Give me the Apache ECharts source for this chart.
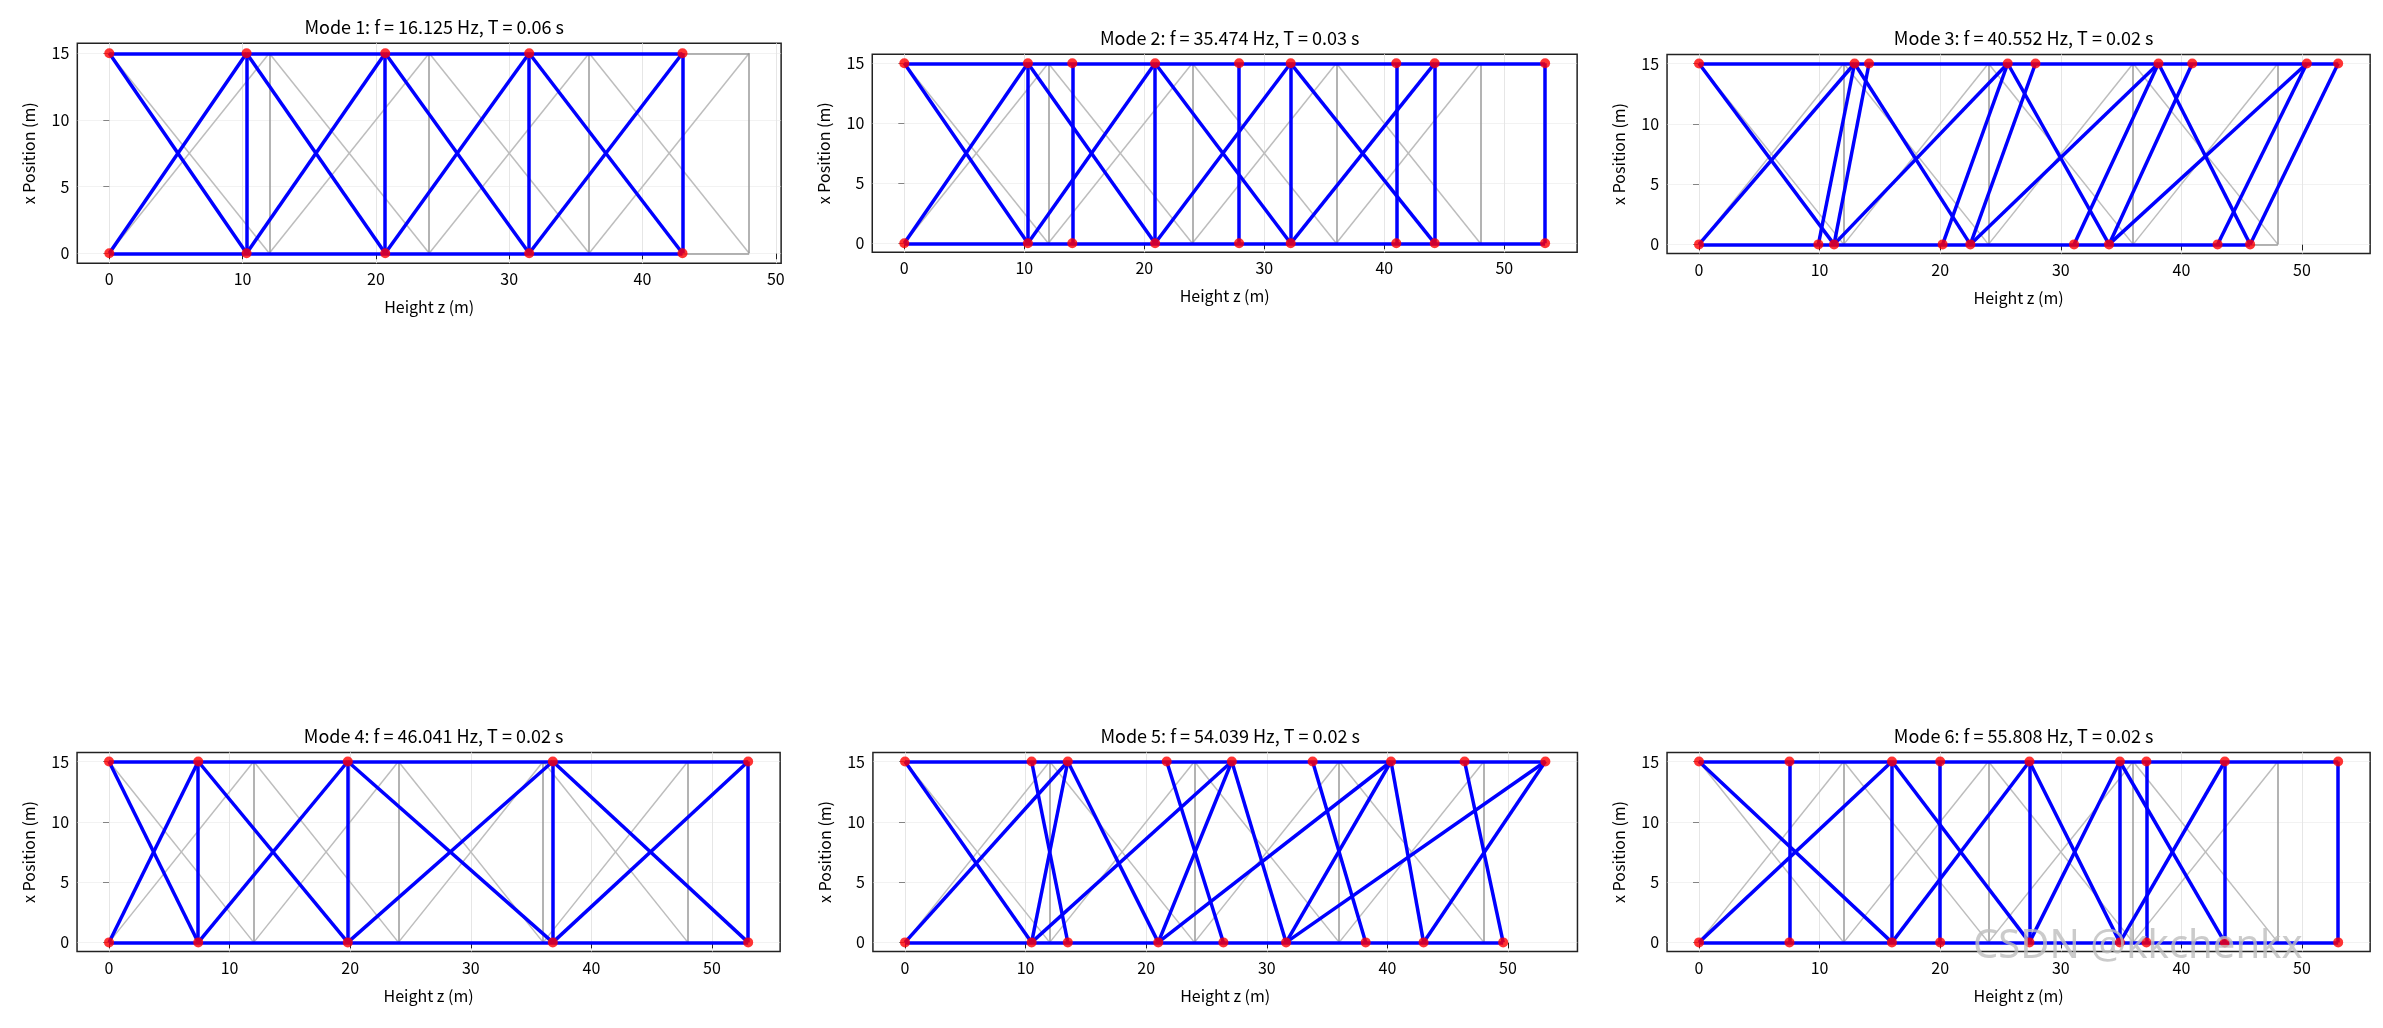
<!DOCTYPE html>
<html><head><meta charset="utf-8">
<script src="https://cdn.jsdelivr.net/npm/echarts@6/dist/echarts.min.js"></script>
<style>html,body{margin:0;padding:0;background:#fff}#c{width:2383px;height:1028px}</style>
</head><body><div id="c"></div>
<script>
const titles = [
 "Mode 1: f = 16.125 Hz, T = 0.06 s","Mode 2: f = 35.474 Hz, T = 0.03 s","Mode 3: f = 40.552 Hz, T = 0.02 s",
 "Mode 4: f = 46.041 Hz, T = 0.02 s","Mode 5: f = 54.039 Hz, T = 0.02 s","Mode 6: f = 55.808 Hz, T = 0.02 s"];
const xTicks = [0,10,20,30,40,50];
const yTicks = [0,5,10,15];
const origLevels = [0,12,24,36,48];
// deformed nodes (z) on top chord (x=15) and bottom chord (x=0)
const top1 = [0,10.3,20.7,31.5,43];
const bot1 = [0,10.3,20.7,31.5,43];
const mem1 = [[10.3,10.3],[20.7,20.7],[31.5,31.5],[43,43],[10.3,0],[0,10.3],[20.7,10.3],[10.3,20.7],[31.5,20.7],[20.7,31.5],[43,31.5],[31.5,43]];
const top2 = [0,10.3,14,20.9,27.9,32.2,41,44.2,53.4];
const bot2 = [0,10.3,14,20.9,27.9,32.2,41,44.2,53.4];
const mem2 = [[10.3,10.3],[14,14],[20.9,20.9],[27.9,27.9],[32.2,32.2],[41,41],[44.2,44.2],[53.4,53.4],[10.3,0],[0,10.3],[20.9,10.3],[10.3,20.9],[32.2,20.9],[20.9,32.2],[44.2,32.2],[32.2,44.2]];
const top3 = [0,12.9,14.1,25.6,27.9,38.1,40.9,50.4,53.0];
const bot3 = [0,9.9,11.2,20.2,22.5,31.1,34.0,43.0,45.7];
const mem3 = [[11.2,0],[0,12.9],[9.9,12.9],[11.2,14.1],[22.5,12.9],[11.2,25.6],[20.2,25.6],[22.5,27.9],[34.0,25.6],[22.5,38.1],[31.1,38.1],[34.0,40.9],[45.7,38.1],[34.0,50.4],[43.0,50.4],[45.7,53.0]];
const top4 = [0,7.4,19.8,36.8,53];
const bot4 = [0,7.4,19.8,36.8,53];
const mem4 = [[7.4,7.4],[19.8,19.8],[36.8,36.8],[53,53],[7.4,0],[0,7.4],[19.8,7.4],[7.4,19.8],[36.8,19.8],[19.8,36.8],[53,36.8],[36.8,53]];
const top5 = [0,10.5,13.5,21.7,27.1,33.8,40.3,46.4,53.1];
const bot5 = [0,10.5,13.5,21.0,26.4,31.6,38.2,43.0,49.6];
const mem5 = [[10.5,0],[0,13.5],[13.5,10.5],[10.5,13.5],[21.0,13.5],[10.5,27.1],[26.4,21.7],[21.0,27.1],[31.6,27.1],[21.0,40.3],[38.2,33.8],[31.6,40.3],[43.0,40.3],[31.6,53.1],[49.6,46.4],[43.0,53.1]];
const top6 = [0,7.5,16.0,20.0,27.4,34.9,37.1,43.6,53.0];
const bot6 = [0,7.5,16.0,20.0,27.4,34.9,37.1,43.6,53.0];
const mem6 = [[7.5,7.5],[16,16],[20,20],[27.4,27.4],[34.9,34.9],[37.1,37.1],[43.6,43.6],[53,53],[16,0],[0,16],[27.4,16],[16,27.4],[34.9,27.4],[27.4,34.9],[43.6,34.9],[34.9,43.6]];

const modes = [[top1,bot1,mem1],[top2,bot2,mem2],[top3,bot3,mem3],[top4,bot4,mem4],[top5,bot5,mem5],[top6,bot6,mem6]];
const xRanges = [[-2.4,50.4],[-2.67,56.07],[-2.65,55.65],[-2.65,55.65],[-2.66,55.76],[-2.65,55.65]];
const zeroX = [109.3,904.3,1699,109,905,1699];
const y15 = [53.3,63.3,63.5,761.5,761.5,761.5];
const ppu = [13.33,12.0,12.06,12.06,12.06,12.06];

const chart = echarts.init(document.getElementById('c'));
const grids=[],xAxes=[],yAxes=[],series=[],titleOpts=[];
const font='"Noto Sans CJK SC", sans-serif';
modes.forEach((m,i)=>{
  const [xmin,xmax]=xRanges[i], s=ppu[i];
  const left=zeroX[i]+xmin*s, width=(xmax-xmin)*s;
  const top=y15[i]-0.75*s, height=16.5*s;
  grids.push({left:left,top:top,width:width,height:height,containLabel:false,show:true,borderColor:'#222',borderWidth:1.5});
  titleOpts.push({text:titles[i],left:left+width/2,top:top-30,textAlign:'center',textStyle:{fontFamily:font,fontSize:18,fontWeight:'normal',color:'#000'}});
  const axLine={show:false};
  xAxes.push({gridIndex:i,type:'value',min:xmin,max:xmax,interval:10,
    axisLabel:{fontFamily:font,fontSize:16,color:'#000',customValues:xTicks},axisTick:{customValues:xTicks,length:6,lineStyle:{color:'#222'}},
    axisLine:{show:false},splitLine:{show:true,lineStyle:{color:'#e6e6e6'}},
    name:'Height z (m)',nameLocation:'middle',nameGap:36,nameTextStyle:{fontFamily:font,fontSize:16,color:'#000'}});
  yAxes.push({gridIndex:i,type:'value',min:-0.75,max:15.75,
    axisLabel:{fontFamily:font,fontSize:16,color:'#000',customValues:yTicks},axisTick:{show:true,customValues:yTicks,length:6,lineStyle:{color:'#222'}},
    axisLine:{show:false},splitLine:{show:false},
    name:'x Position (m)',nameLocation:'middle',nameGap:40,nameTextStyle:{fontFamily:font,fontSize:16,color:'#000'}});
  // horizontal grid lines
  series.push({type:'lines',coordinateSystem:'cartesian2d',xAxisIndex:i,yAxisIndex:i,silent:true,
    lineStyle:{color:'#e6e6e6',width:1.2},data:yTicks.map(v=>({coords:[[xmin,v],[xmax,v]]}))});
  // original
  const L=origLevels, last=L[L.length-1];
  const diag=[];
  for(let k=0;k<L.length-1;k++){diag.push({coords:[[L[k],0],[L[k+1],15]]});diag.push({coords:[[L[k],15],[L[k+1],0]]});}
  series.push({type:'lines',coordinateSystem:'cartesian2d',xAxisIndex:i,yAxisIndex:i,silent:true,
    lineStyle:{color:'#bdbdbd',width:1.5,opacity:1},data:diag});
  series.push({type:'lines',coordinateSystem:'cartesian2d',xAxisIndex:i,yAxisIndex:i,silent:true,
    lineStyle:{color:'#9a9a9a',width:1.5,opacity:1},
    data:[{coords:[[0,0],[last,0]]},{coords:[[0,15],[last,15]]}].concat(L.slice(1).map(z=>({coords:[[z,0],[z,15]]})))});
  // deformed
  const [tp,bt,mem]=m;
  const dd=[{coords:[[0,15],[Math.max(...tp),15]]},{coords:[[0,0],[Math.max(...bt),0]]}].concat(mem.map(p=>({coords:[[p[0],0],[p[1],15]]})));
  series.push({type:'lines',coordinateSystem:'cartesian2d',xAxisIndex:i,yAxisIndex:i,silent:true,
    lineStyle:{color:'#0000ff',width:3.5,opacity:1},data:dd});
  series.push({type:'scatter',xAxisIndex:i,yAxisIndex:i,symbolSize:10,itemStyle:{color:'#ff0000'},silent:true,
    data:tp.map(z=>[z,15]).concat(bt.map(z=>[z,0]))});
});
titleOpts.push({text:'CSDN @kkchenkx',left:1968,top:922,textStyle:{fontFamily:'"Noto Sans", sans-serif',fontSize:40,fontWeight:'normal',color:'rgba(190,190,190,0.8)'}});
chart.setOption({animation:false,title:titleOpts,grid:grids,xAxis:xAxes,yAxis:yAxes,series:series});
</script></body></html>
